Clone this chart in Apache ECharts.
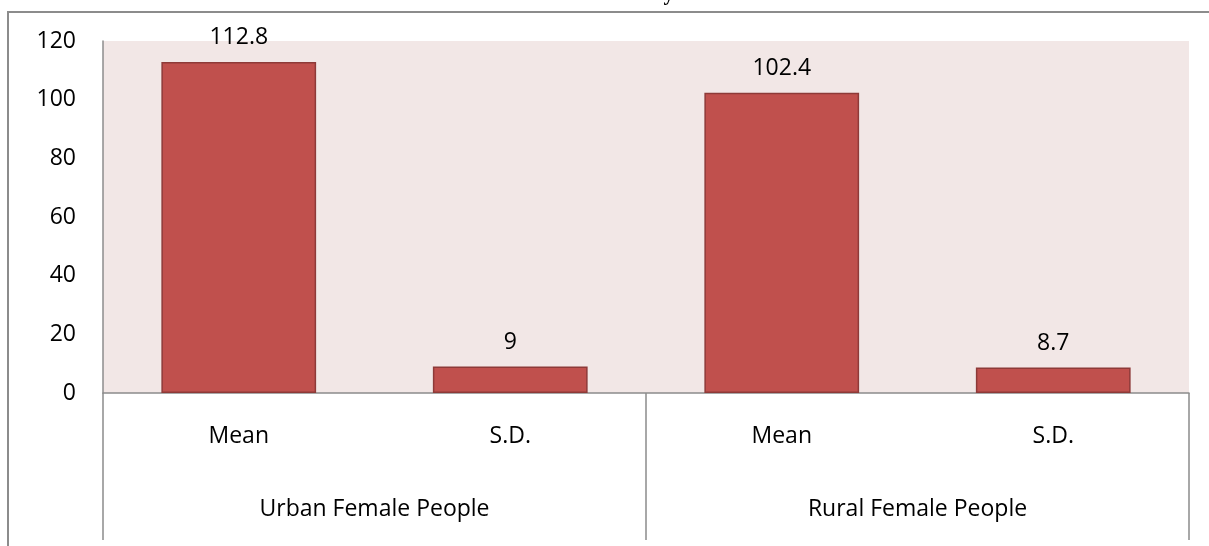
<!DOCTYPE html>
<html>
<head>
<meta charset="utf-8">
<script src="https://cdn.jsdelivr.net/npm/echarts@6/dist/echarts.min.js"></script>
<style>
  html, body { margin: 0; padding: 0; background: #ffffff; }
  #chart { width: 1209px; height: 546px; }
</style>
</head>
<body>
<div id="chart"></div>
<script>
// Inner category labels (one per bar) and the outer group labels beneath them
const categories = ['Mean', 'S.D.', 'Mean', 'S.D.'];
const groups = ['Urban Female People', 'Rural Female People'];
const values = [112.8, 9, 102.4, 8.7];
// Value axis range and step
const yMin = 0;
const yMax = 120;
const yStep = 20;

const FONT = '"Open Sans", "Noto Sans", sans-serif';
const GRAY = '#8c8c8c';
const SIZE = 23;

const chart = echarts.init(document.getElementById('chart'), null, { renderer: 'canvas' });

chart.setOption({
  animation: false,
  backgroundColor: '#ffffff',
  textStyle: { fontFamily: FONT },
  graphic: [
    {
      type: 'text',
      right: 535,
      top: -16,
      style: {
        text: 'Personality',
        font: 'bold 21px "Liberation Serif", "DejaVu Serif", serif',
        fill: '#000000'
      }
    },
    {
      type: 'polyline',
      shape: { points: [[8, 546], [8, 12], [1209, 12]] },
      style: { stroke: GRAY, lineWidth: 2, fill: null }
    }
  ],
  grid: {
    left: 103,
    right: 20,
    top: 41,
    bottom: 153,
    show: true,
    backgroundColor: '#F2E7E6',
    borderWidth: 0
  },
  xAxis: [
    {
      type: 'category',
      data: categories,
      position: 'bottom',
      axisLine: { show: true, lineStyle: { color: GRAY, width: 1.5 } },
      axisTick: { show: false },
      axisLabel: {
        interval: 0,
        margin: 32,
        fontSize: SIZE,
        color: '#000000',
        fontFamily: FONT
      },
      splitLine: { show: false }
    },
    {
      type: 'category',
      data: groups,
      position: 'bottom',
      axisLine: { show: false },
      axisTick: {
        show: true,
        interval: 0,
        length: 147,
        lineStyle: { color: GRAY, width: 1.5 }
      },
      axisLabel: {
        interval: 0,
        margin: 105,
        fontSize: SIZE,
        color: '#000000',
        fontFamily: FONT
      },
      splitLine: { show: false }
    }
  ],
  yAxis: {
    type: 'value',
    min: yMin,
    max: yMax,
    interval: yStep,
    axisLine: { show: true, lineStyle: { color: GRAY, width: 1.5 } },
    axisTick: { show: false },
    splitLine: { show: false },
    axisLabel: {
      margin: 27,
      fontSize: SIZE,
      color: '#000000',
      fontFamily: FONT
    }
  },
  series: [
    {
      type: 'bar',
      xAxisIndex: 0,
      data: values,
      barWidth: '57%',
      itemStyle: {
        color: '#C0504D',
        borderColor: '#8E3A38',
        borderWidth: 1.5
      },
      label: {
        show: true,
        position: 'top',
        distance: 13,
        fontSize: SIZE,
        color: '#000000',
        fontFamily: FONT
      }
    }
  ]
});
</script>
</body>
</html>
